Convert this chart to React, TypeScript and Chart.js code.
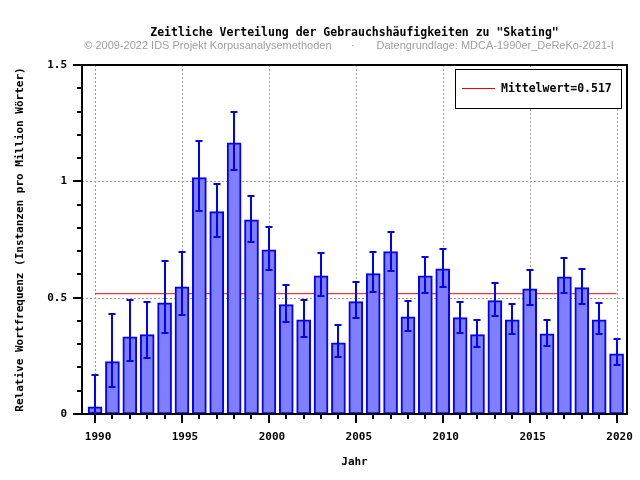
import React, { useEffect, useRef } from 'react';
import { Chart, registerables } from 'chart.js';

Chart.register(...registerables);

const years = [1990, 1991, 1992, 1993, 1994, 1995, 1996, 1997, 1998, 1999, 2000, 2001, 2002, 2003, 2004, 2005, 2006, 2007, 2008, 2009, 2010, 2011, 2012, 2013, 2014, 2015, 2016, 2017, 2018, 2019, 2020];
const values = [0.031, 0.225, 0.332, 0.341, 0.478, 0.547, 1.016, 0.870, 1.166, 0.835, 0.706, 0.470, 0.405, 0.594, 0.306, 0.483, 0.603, 0.698, 0.418, 0.594, 0.624, 0.414, 0.341, 0.487, 0.405, 0.538, 0.345, 0.590, 0.543, 0.405, 0.259];
const errHigh = [0.169, 0.430, 0.491, 0.483, 0.659, 0.696, 1.175, 0.990, 1.299, 0.938, 0.805, 0.556, 0.491, 0.693, 0.384, 0.569, 0.696, 0.782, 0.487, 0.676, 0.709, 0.483, 0.405, 0.564, 0.474, 0.620, 0.405, 0.672, 0.624, 0.478, 0.324];
const errLow = [0.005, 0.117, 0.228, 0.242, 0.349, 0.425, 0.872, 0.762, 1.050, 0.740, 0.620, 0.397, 0.332, 0.508, 0.246, 0.414, 0.526, 0.616, 0.358, 0.521, 0.547, 0.349, 0.289, 0.422, 0.345, 0.470, 0.293, 0.521, 0.474, 0.345, 0.212];
const meanValue = 0.517;
const xTickYears = [1990, 1995, 2000, 2005, 2010, 2015, 2020];
const yTickValues = [0, 0.5, 1, 1.5];

const titleText = 'Zeitliche Verteilung der Gebrauchshäufigkeiten zu "Skating"';
const subtitleLeft = '© 2009-2022 IDS Projekt Korpusanalysemethoden';
const subtitleDot = '·';
const subtitleRight = 'Datengrundlage: MDCA-1990er_DeReKo-2021-I';
const xTitle = 'Jahr';
const yTitle = 'Relative Wortfrequenz (Instanzen pro Million Wörter)';
const legendLabel = 'Mittelwert=' + meanValue;

const MONO = "'DejaVu Sans Mono', 'Liberation Mono', monospace";

const decorPlugin = {
  id: 'decor',
  beforeDatasetsDraw(chart: any) {
    const { ctx, chartArea: a, scales } = chart;
    const x = scales.x;
    const y = scales.y;
    ctx.save();
    ctx.strokeStyle = '#a0a0a0';
    ctx.lineWidth = 1;
    ctx.setLineDash([2, 2]);
    ctx.beginPath();
    xTickYears.forEach((v) => {
      const px = Math.round(x.getPixelForValue(v)) + 0.5;
      ctx.moveTo(px, a.top);
      ctx.lineTo(px, a.bottom);
    });
    yTickValues.forEach((v) => {
      if (v <= y.min || v >= y.max) return;
      const py = Math.round(y.getPixelForValue(v)) + 0.5;
      ctx.moveTo(a.left, py);
      ctx.lineTo(a.right, py);
    });
    ctx.stroke();
    ctx.restore();
  },
  afterDatasetsDraw(chart: any) {
    const { ctx, scales } = chart;
    const x = scales.x;
    const y = scales.y;
    ctx.save();
    ctx.setLineDash([]);
    ctx.strokeStyle = '#0000ff';
    ctx.lineWidth = 2;
    years.forEach((yr, i) => {
      const px = Math.round(x.getPixelForValue(yr));
      const hi = Math.round(y.getPixelForValue(errHigh[i]));
      const lo = Math.round(y.getPixelForValue(errLow[i]));
      ctx.beginPath();
      ctx.moveTo(px, hi);
      ctx.lineTo(px, lo);
      ctx.moveTo(px - 3.5, hi);
      ctx.lineTo(px + 3.5, hi);
      ctx.moveTo(px - 3.5, lo);
      ctx.lineTo(px + 3.5, lo);
      ctx.stroke();
    });
    ctx.restore();
  },
  afterDraw(chart: any) {
    const { ctx, chartArea: a, scales } = chart;
    const x = scales.x;
    const y = scales.y;
    ctx.save();
    ctx.setLineDash([]);
    ctx.strokeStyle = '#000';
    ctx.lineWidth = 2;
    ctx.strokeRect(a.left, a.top, a.right - a.left, a.bottom - a.top);
    ctx.beginPath();
    years.forEach((yr) => {
      const px = Math.round(x.getPixelForValue(yr));
      const len = xTickYears.includes(yr) ? 9 : 5;
      ctx.moveTo(px, a.bottom);
      ctx.lineTo(px, a.bottom + len);
    });
    for (let i = 0; i <= 15; i++) {
      const v = i / 10;
      const py = Math.round(y.getPixelForValue(v));
      const len = i % 5 === 0 ? 9 : 5;
      ctx.moveTo(a.left, py);
      ctx.lineTo(a.left - len, py);
    }
    ctx.stroke();

    const lx = a.right - 172;
    const ly = a.top + 4;
    const lw = 166;
    const lh = 39;
    ctx.fillStyle = '#fff';
    ctx.fillRect(lx, ly, lw, lh);
    ctx.strokeStyle = '#000';
    ctx.lineWidth = 1;
    ctx.strokeRect(lx + 0.5, ly + 0.5, lw, lh);
    ctx.strokeStyle = '#ff0000';
    ctx.beginPath();
    ctx.moveTo(lx + 7, ly + 19.5);
    ctx.lineTo(lx + 40, ly + 19.5);
    ctx.stroke();
    ctx.fillStyle = '#000';
    ctx.font = `bold 11.5px ${MONO}`;
    ctx.textAlign = 'left';
    ctx.textBaseline = 'middle';
    ctx.fillText(legendLabel, lx + 46, ly + 20);

    const cx = (a.left + a.right) / 2;
    ctx.textAlign = 'center';
    ctx.fillText(titleText, cx, 33);
    ctx.font = "11px 'Liberation Sans', Arial, sans-serif";
    ctx.fillStyle = '#a0a0a0';
    ctx.textAlign = 'right';
    ctx.fillText(subtitleLeft, cx - 23, 46);
    ctx.textAlign = 'center';
    ctx.fillText(subtitleDot, cx - 2, 46);
    ctx.textAlign = 'left';
    ctx.fillText(subtitleRight, cx + 22, 46);
    ctx.restore();
  },
};

export default function App() {
  const ref = useRef<HTMLCanvasElement | null>(null);
  useEffect(() => {
    document.body.style.margin = '0';
    const canvas = ref.current;
    if (!canvas) return;
    const font = { family: MONO, size: 11, weight: 'bold' as const };
    const chart = new Chart(canvas, {
      type: 'bar',
      data: {
        datasets: [
          {
            type: 'bar',
            label: 'Frequenz',
            data: years.map((yr, i) => ({ x: yr, y: values[i] })),
            backgroundColor: '#8080ff',
            borderColor: '#0000ff',
            borderWidth: 2,
            borderSkipped: false,
            barThickness: 14,
            order: 1,
          } as any,
          {
            type: 'line',
            label: legendLabel,
            data: [
              { x: years[0], y: meanValue },
              { x: years[years.length - 1], y: meanValue },
            ],
            borderColor: '#ff0000',
            borderWidth: 1,
            pointRadius: 0,
            order: 2,
          } as any,
        ],
      },
      options: {
        responsive: false,
        animation: false,
        layout: { padding: { top: 65, right: 13, left: 0, bottom: 0 } },
        plugins: {
          legend: { display: false },
          tooltip: { enabled: false },
          title: { display: false },
        },
        scales: {
          x: {
            type: 'linear',
            min: 1989.25,
            max: 2020.6,
            offset: false,
            grid: { display: false, drawTicks: false },
            border: { display: false },
            afterBuildTicks: (s: any) => {
              s.ticks = xTickYears.map((v) => ({ value: v }));
            },
            afterFit: (s: any) => {
              s.height = 66;
              s.paddingLeft = 0;
              s.paddingRight = 0;
            },
            ticks: {
              padding: 17,
              labelOffset: 3,
              color: '#000',
              font,
              maxRotation: 0,
              autoSkip: false,
              callback: (v: any) => String(v),
            },
            title: {
              display: true,
              text: xTitle,
              color: '#000',
              font,
              padding: { top: 0, bottom: 11.4 },
            },
          },
          y: {
            type: 'linear',
            min: 0,
            max: 1.5,
            grid: { display: false, drawTicks: false },
            border: { display: false },
            afterBuildTicks: (s: any) => {
              s.ticks = yTickValues.map((v) => ({ value: v }));
            },
            afterFit: (s: any) => {
              s.width = 82;
              s.paddingTop = 0;
              s.paddingBottom = 0;
            },
            ticks: {
              padding: 15,
              color: '#000',
              font,
              callback: (v: any) => String(v),
            },
            title: {
              display: true,
              text: yTitle,
              color: '#000',
              font,
              padding: { top: 13.4, bottom: 0 },
            },
          },
        },
      } as any,
      plugins: [decorPlugin],
    });
    return () => chart.destroy();
  }, []);
  return <canvas ref={ref} width={640} height={480} style={{ display: 'block' }} />;
}
